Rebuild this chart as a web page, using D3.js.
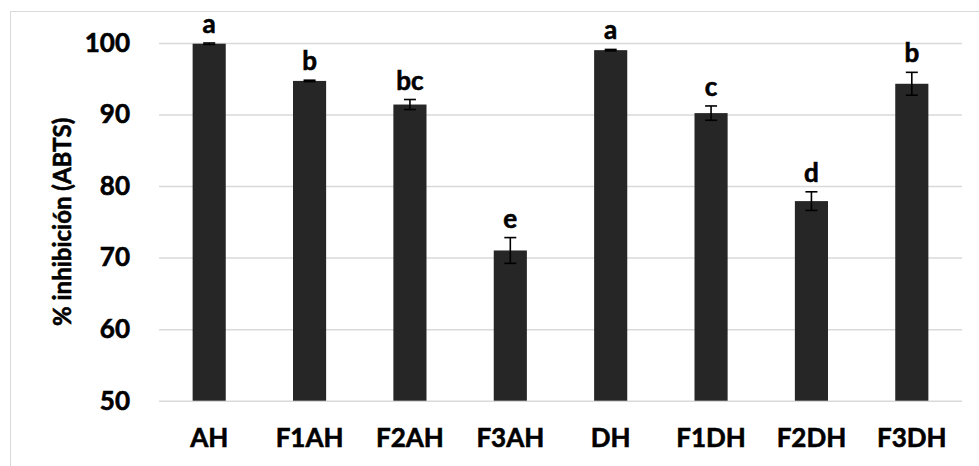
<!DOCTYPE html>
<html>
<head>
<meta charset="utf-8">
<script src="https://cdn.jsdelivr.net/npm/d3@7/dist/d3.min.js"></script>
<style>
  html, body { margin: 0; padding: 0; background: #fff; }
  svg { display: block; font-family: Lato, "Open Sans", sans-serif; }
  .lbl { stroke: #000; stroke-width: 0.6px; paint-order: stroke; }
</style>
</head>
<body>
<svg id="chart" width="979" height="466"></svg>
<script>
const categories = ["AH", "F1AH", "F2AH", "F3AH", "DH", "F1DH", "F2DH", "F3DH"];
const values = [99.9, 94.7, 91.4, 71.0, 99.0, 90.2, 77.9, 94.3];
const errors = [0.1, 0.1, 0.7, 1.8, 0.1, 1.0, 1.3, 1.6];
const letters = ["a", "b", "bc", "e", "a", "c", "d", "b"];
const yTicks = [50, 60, 70, 80, 90, 100];
const yTitle = "% inhibición (ABTS)";

const svg = d3.select("#chart");
const W = 979, H = 466;
const m = { left: 159, right: 17, top: 43, bottom: 65 };

// outer frame
svg.append("rect")
  .attr("x", 10.5).attr("y", 11.5)
  .attr("width", W).attr("height", H)
  .attr("fill", "none").attr("stroke", "#d9d9d9").attr("stroke-width", 1);

const x = d3.scaleBand().domain(categories)
  .range([m.left, W - m.right]).paddingInner(0.67).paddingOuter(0.335);
const y = d3.scaleLinear().domain([50, 100]).range([H - m.bottom - 0.3, m.top]);

// gridlines
const grid = svg.append("g")
  .attr("transform", `translate(${m.left},0)`)
  .call(d3.axisLeft(y).tickValues(yTicks).tickSize(-(W - m.right - m.left)).tickFormat(""));
grid.select(".domain").remove();
grid.selectAll("line").attr("stroke", "#d9d9d9").attr("stroke-width", 1.5);

// y axis labels
const yAxis = svg.append("g")
  .attr("transform", `translate(${m.left},0)`)
  .call(d3.axisLeft(y).tickValues(yTicks).tickSize(0).tickPadding(29));
yAxis.select(".domain").remove();
yAxis.selectAll("text")
  .attr("class", "lbl")
  .attr("font-family", "Lato, sans-serif")
  .attr("font-size", 26).attr("font-weight", "bold").attr("fill", "#000");

// bars
const data = categories.map((c, i) => ({ c, v: values[i], e: errors[i], l: letters[i] }));
svg.append("g").selectAll("rect").data(data).join("rect")
  .attr("x", d => x(d.c))
  .attr("width", x.bandwidth())
  .attr("y", d => y(d.v))
  .attr("height", d => y(50) - y(d.v))
  .attr("fill", "#262626");

// error bars
const eb = svg.append("g").attr("stroke", "#000").attr("stroke-width", 1.6);
const cap = 6;
data.forEach(d => {
  const cx = x(d.c) + x.bandwidth() / 2;
  eb.append("line").attr("x1", cx).attr("x2", cx).attr("y1", y(d.v + d.e)).attr("y2", y(d.v - d.e));
  eb.append("line").attr("x1", cx - cap).attr("x2", cx + cap).attr("y1", y(d.v + d.e)).attr("y2", y(d.v + d.e));
  eb.append("line").attr("x1", cx - cap).attr("x2", cx + cap).attr("y1", y(d.v - d.e)).attr("y2", y(d.v - d.e));
});

// letters
svg.append("g").selectAll("text").data(data).join("text")
  .attr("class", "lbl")
  .attr("x", d => x(d.c) + x.bandwidth() / 2)
  .attr("y", d => y(d.v + d.e) - 10)
  .attr("text-anchor", "middle")
  .attr("font-size", 26).attr("font-weight", "bold").attr("fill", "#000")
  .text(d => d.l);

// x axis labels
const xAxis = svg.append("g")
  .attr("transform", `translate(0,${y(50)})`)
  .call(d3.axisBottom(x).tickSize(0).tickPadding(28));
xAxis.select(".domain").remove();
xAxis.selectAll("text")
  .attr("class", "lbl")
  .attr("font-family", "Lato, sans-serif")
  .attr("font-size", 26).attr("font-weight", "bold").attr("fill", "#000");

// y title
svg.append("text")
  .attr("class", "lbl")
  .attr("transform", `translate(71, ${(y(50) + y(100)) / 2}) rotate(-90)`)
  .attr("text-anchor", "middle")
  .attr("font-size", 24).attr("font-weight", "bold").attr("fill", "#000")
  .text(yTitle);
</script>
</body>
</html>
